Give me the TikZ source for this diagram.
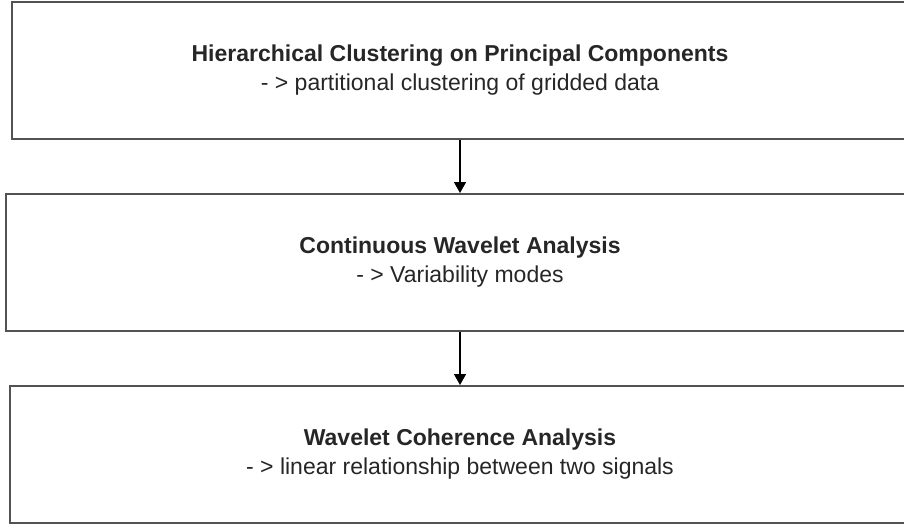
\documentclass[tikz,border=0pt]{standalone}
\usepackage{fontspec}
\setmainfont{Liberation Sans}
\usetikzlibrary{arrows.meta}
\begin{document}
\begin{tikzpicture}[x=1pt,y=1pt,node distance=192pt,
  box/.style={draw=black!68,line width=2pt,minimum height=137pt,align=center,inner sep=0pt,text=black!85,font=\fontsize{23}{29}\selectfont},
  arr/.style={-{Triangle[width=12pt,length=11pt]},line width=1.5pt}]
\useasboundingbox (0,0) rectangle (904,-527);
\node[box,minimum width=896pt] (A) at (460,-70.5){\textbf{Hierarchical Clustering on Principal Components}\\- > partitional clustering of gridded data};
\node[box,minimum width=908pt,below of=A] (B){\textbf{Continuous Wavelet Analysis}\\- > Variability modes};
\node[box,minimum width=901pt,below of=B] (C){\textbf{Wavelet Coherence Analysis}\\- > linear relationship between two signals};
\draw[arr] (A) -- (B);
\draw[arr] (B) -- (C);
\end{tikzpicture}
\end{document}
